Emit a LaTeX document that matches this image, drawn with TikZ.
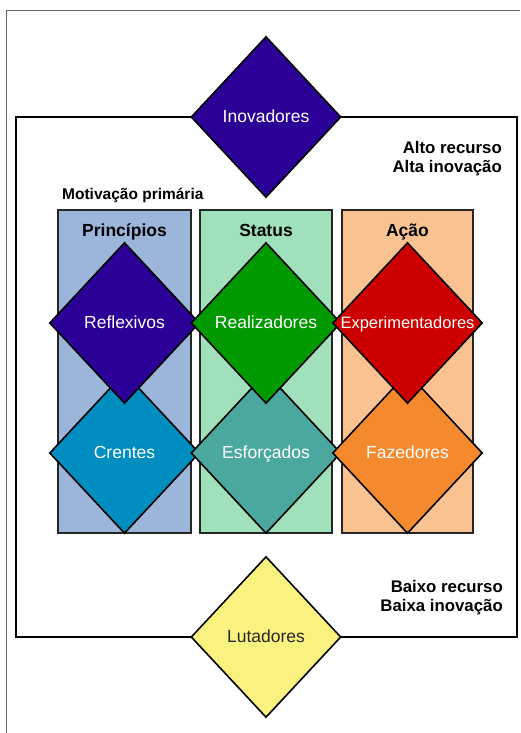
\documentclass[tikz,border=0pt]{standalone}
\usepackage{fontspec}
\setmainfont{Liberation Sans}
\usetikzlibrary{shapes.geometric}

\definecolor{roxo}{HTML}{2B0096}
\definecolor{verde}{HTML}{009900}
\definecolor{vermelho}{HTML}{CC0000}
\definecolor{azul}{HTML}{008EC0}
\definecolor{turquesa}{HTML}{4BA89F}
\definecolor{laranja}{HTML}{F5892D}
\definecolor{amarelo}{HTML}{FAF27F}
\definecolor{fundoazul}{HTML}{9BB6DA}
\definecolor{fundoverde}{HTML}{A0E1BB}
\definecolor{fundolaranja}{HTML}{FAC291}

\begin{document}
\begin{tikzpicture}[x=1pt, y=-1pt,
	gem/.style={diamond, draw=black, line width=1.6pt, minimum width=150pt, minimum height=161pt,
		inner sep=0pt, text height=13pt, text depth=3pt, text=white, font=\fontsize{17.5}{20}\selectfont},
	coluna/.style={draw=black!85, line width=1.6pt},
	rotulo/.style={font=\bfseries\fontsize{15.5}{19}\selectfont, inner sep=0pt, anchor=base}]
	\useasboundingbox (0,0) rectangle (520,733);

	% moldura cinza e caixa principal
	\draw[black!60, line width=1pt] (6,733) -- (6,11) -- (520,11);
	\draw[line width=1.8pt] (16,117) rectangle (517,637);

	% colunas
	\filldraw[coluna, fill=fundoazul] (58,210) rectangle (191,533);
	\filldraw[coluna, fill=fundoverde] (200,210) rectangle (332,533);
	\filldraw[coluna, fill=fundolaranja] (342,210) rectangle (473,533);

	\node[rotulo, anchor=base west] (motiv) at (62,199) {Motivação primária};
	\node[rotulo, font=\bfseries\fontsize{17.5}{20}\selectfont] (princ) at (124.5,236) {Princípios};
	\node[rotulo, font=\bfseries\fontsize{17.5}{20}\selectfont] (stat) at (266,236) {Status};
	\node[rotulo, font=\bfseries\fontsize{17.5}{20}\selectfont] (acao) at (407.5,236) {Ação};

	% baixo recurso
	\node[gem, fill=azul] (crentes) at (124.5,453) {\makebox[0pt]{Crentes}};
	\node[gem, fill=turquesa] (esforc) at (266,453) {\makebox[0pt]{Esforçados}};
	\node[gem, fill=laranja] (fazed) at (407.5,453) {\makebox[0pt]{Fazedores}};

	% alto recurso
	\node[gem, fill=roxo] (reflex) at (124.5,323) {\makebox[0pt]{Reflexivos}};
	\node[gem, fill=verde] (realiz) at (266,323) {\makebox[0pt]{Realizadores}};
	\node[gem, fill=vermelho, font=\fontsize{16.5}{20}\selectfont] (exper) at (407.5,323) {\makebox[0pt]{Experimentadores}};

	\node[gem, fill=roxo] (inov) at (266,117) {\makebox[0pt]{Inovadores}};
	\node[gem, fill=amarelo, text=black!85] (lutad) at (266,637) {\makebox[0pt]{Lutadores}};

	\node[rotulo, anchor=east, align=right, font=\bfseries\fontsize{16.8}{19}\selectfont] (alto) at (502,159) {Alto recurso\\Alta inovação};
	\node[rotulo, anchor=east, align=right, font=\bfseries\fontsize{16.8}{19}\selectfont] (baixo) at (503,598) {Baixo recurso\\Baixa inovação};
\end{tikzpicture}
\end{document}
